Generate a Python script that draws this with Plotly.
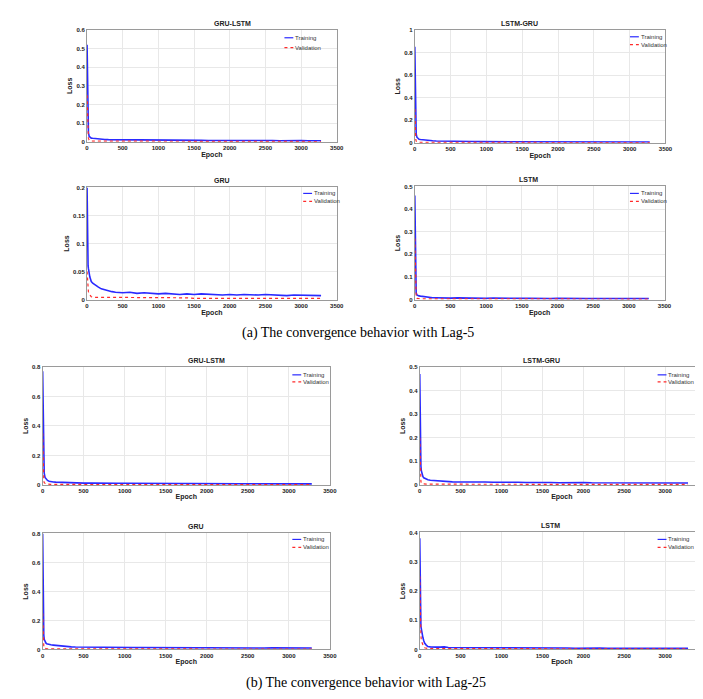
import plotly.graph_objects as go

# ---------------- data ----------------
epochs = [1, 5, 10, 15, 20, 30, 40, 50, 60, 80, 100, 130, 160, 200, 250, 300, 350, 400,
          500, 600, 700, 800, 900, 1000, 1100, 1200, 1300, 1400, 1500, 1600, 1700, 1800,
          1900, 2000, 2100, 2200, 2300, 2400, 2500, 2600, 2700, 2800, 2900, 3000, 3100,
          3200, 3280]

# Lag-5
gru_lstm_5_train = [0.52, 0.30, 0.15, 0.08, 0.05, 0.030, 0.025, 0.022, 0.020, 0.019, 0.018, 0.017,
                    0.015, 0.014, 0.013, 0.012, 0.012, 0.011,
                    0.010, 0.011, 0.009, 0.010, 0.009, 0.010, 0.008, 0.009, 0.008, 0.009,
                    0.008, 0.008, 0.007, 0.008, 0.007, 0.008, 0.007, 0.007, 0.008, 0.007,
                    0.006, 0.007, 0.006, 0.007, 0.006, 0.007, 0.006, 0.006, 0.006]
gru_lstm_5_val = [0.25, 0.15, 0.08, 0.04, 0.02, 0.010, 0.006, 0.005, 0.004, 0.004, 0.004, 0.003,
                  0.003, 0.003, 0.003, 0.003, 0.003, 0.003,
                  0.003, 0.003, 0.003, 0.002, 0.003, 0.002, 0.002, 0.003, 0.002, 0.002,
                  0.002, 0.002, 0.002, 0.002, 0.002, 0.002, 0.002, 0.002, 0.002, 0.002,
                  0.002, 0.002, 0.002, 0.002, 0.002, 0.002, 0.002, 0.002, 0.002]
lstm_gru_5_train = [0.85, 0.50, 0.25, 0.12, 0.08, 0.050, 0.040, 0.035, 0.032, 0.030, 0.028, 0.025,
                    0.022, 0.020, 0.018, 0.016, 0.015, 0.014,
                    0.012, 0.013, 0.011, 0.012, 0.011, 0.011, 0.010, 0.011, 0.010, 0.010,
                    0.009, 0.010, 0.009, 0.010, 0.009, 0.009, 0.008, 0.009, 0.009, 0.008,
                    0.008, 0.009, 0.008, 0.008, 0.008, 0.007, 0.008, 0.008, 0.007]
lstm_gru_5_val = [0.30, 0.15, 0.06, 0.03, 0.015, 0.008, 0.006, 0.005, 0.005, 0.004, 0.004, 0.004,
                  0.003, 0.003, 0.003, 0.003, 0.003, 0.003,
                  0.003, 0.003, 0.003, 0.003, 0.003, 0.003, 0.003, 0.002, 0.003, 0.002,
                  0.002, 0.002, 0.002, 0.002, 0.002, 0.002, 0.002, 0.002, 0.002, 0.002,
                  0.002, 0.002, 0.002, 0.002, 0.002, 0.002, 0.002, 0.002, 0.002]
gru_5_train = [0.200, 0.110, 0.070, 0.060, 0.055, 0.045, 0.040, 0.036, 0.032, 0.029, 0.027, 0.024,
               0.022, 0.019, 0.017, 0.016, 0.014, 0.013,
               0.012, 0.013, 0.011, 0.012, 0.011, 0.010, 0.011, 0.010, 0.009, 0.010,
               0.009, 0.010, 0.009, 0.009, 0.008, 0.009, 0.008, 0.009, 0.008, 0.008,
               0.009, 0.008, 0.008, 0.007, 0.008, 0.008, 0.007, 0.008, 0.007]
gru_5_val = [0.050, 0.035, 0.025, 0.018, 0.014, 0.010, 0.008, 0.006, 0.005, 0.004, 0.004, 0.004,
             0.003, 0.003, 0.003, 0.003, 0.003, 0.003,
             0.003, 0.003, 0.003, 0.003, 0.003, 0.003, 0.003, 0.003, 0.003, 0.003,
             0.002, 0.002, 0.002, 0.002, 0.002, 0.002, 0.002, 0.002, 0.002, 0.002,
             0.002, 0.002, 0.002, 0.002, 0.002, 0.002, 0.002, 0.002, 0.002]
lstm_5_train = [0.46, 0.30, 0.15, 0.06, 0.030, 0.020, 0.018, 0.017, 0.016, 0.015, 0.014, 0.012,
                0.010, 0.009, 0.008, 0.008, 0.007, 0.007,
                0.006, 0.007, 0.006, 0.006, 0.006, 0.005, 0.006, 0.005, 0.005, 0.005,
                0.005, 0.005, 0.004, 0.005, 0.004, 0.005, 0.004, 0.004, 0.004, 0.004,
                0.004, 0.004, 0.004, 0.004, 0.004, 0.004, 0.004, 0.004, 0.004]
lstm_5_val = [0.27, 0.15, 0.05, 0.02, 0.010, 0.005, 0.004, 0.004, 0.003, 0.003, 0.003, 0.003,
              0.003, 0.003, 0.002, 0.002, 0.002, 0.002,
              0.002, 0.002, 0.002, 0.002, 0.002, 0.002, 0.002, 0.002, 0.002, 0.002,
              0.002, 0.002, 0.002, 0.002, 0.002, 0.002, 0.002, 0.002, 0.002, 0.002,
              0.002, 0.002, 0.002, 0.002, 0.002, 0.002, 0.002, 0.002, 0.002]

# Lag-25
gru_lstm_25_train = [0.77, 0.50, 0.25, 0.12, 0.08, 0.050, 0.040, 0.035, 0.030, 0.025, 0.022, 0.020,
                     0.019, 0.018, 0.016, 0.015, 0.014, 0.013,
                     0.012, 0.013, 0.011, 0.012, 0.011, 0.011, 0.010, 0.011, 0.010, 0.010,
                     0.009, 0.010, 0.009, 0.009, 0.008, 0.009, 0.008, 0.009, 0.008, 0.008,
                     0.008, 0.008, 0.007, 0.008, 0.007, 0.008, 0.007, 0.007, 0.007]
gru_lstm_25_val = [0.35, 0.15, 0.06, 0.03, 0.015, 0.008, 0.006, 0.005, 0.004, 0.004, 0.004, 0.003,
                   0.003, 0.003, 0.003, 0.003, 0.003, 0.003,
                   0.003, 0.003, 0.003, 0.003, 0.002, 0.003, 0.002, 0.002, 0.002, 0.002,
                   0.002, 0.002, 0.002, 0.002, 0.002, 0.002, 0.002, 0.002, 0.002, 0.002,
                   0.002, 0.002, 0.002, 0.002, 0.002, 0.002, 0.002, 0.002, 0.002]
lstm_gru_25_train = [0.47, 0.25, 0.12, 0.08, 0.060, 0.045, 0.035, 0.030, 0.028, 0.025, 0.022, 0.020,
                     0.019, 0.018, 0.016, 0.015, 0.014, 0.013,
                     0.012, 0.013, 0.011, 0.012, 0.011, 0.012, 0.010, 0.011, 0.010, 0.011,
                     0.010, 0.010, 0.009, 0.010, 0.009, 0.010, 0.009, 0.009, 0.010, 0.009,
                     0.009, 0.010, 0.009, 0.009, 0.008, 0.009, 0.010, 0.008, 0.008]
lstm_gru_25_val = [0.20, 0.10, 0.04, 0.015, 0.008, 0.005, 0.004, 0.004, 0.003, 0.003, 0.003, 0.003,
                   0.003, 0.002, 0.002, 0.002, 0.002, 0.002,
                   0.002, 0.002, 0.002, 0.002, 0.002, 0.002, 0.002, 0.002, 0.002, 0.002,
                   0.002, 0.002, 0.002, 0.002, 0.002, 0.002, 0.002, 0.002, 0.002, 0.002,
                   0.002, 0.002, 0.002, 0.002, 0.002, 0.002, 0.002, 0.002, 0.002]
gru_25_train = [0.80, 0.45, 0.20, 0.10, 0.070, 0.050, 0.045, 0.040, 0.038, 0.035, 0.032, 0.030,
                0.028, 0.025, 0.022, 0.020, 0.018, 0.017,
                0.016, 0.017, 0.015, 0.016, 0.014, 0.015, 0.014, 0.014, 0.013, 0.014,
                0.013, 0.013, 0.012, 0.013, 0.012, 0.012, 0.011, 0.012, 0.011, 0.011,
                0.012, 0.011, 0.010, 0.011, 0.010, 0.011, 0.010, 0.010, 0.010]
gru_25_val = [0.25, 0.12, 0.05, 0.02, 0.010, 0.006, 0.005, 0.004, 0.004, 0.004, 0.003, 0.003,
              0.003, 0.003, 0.003, 0.003, 0.003, 0.003,
              0.003, 0.003, 0.003, 0.003, 0.003, 0.003, 0.003, 0.003, 0.003, 0.003,
              0.003, 0.003, 0.003, 0.003, 0.003, 0.003, 0.003, 0.003, 0.003, 0.003,
              0.003, 0.003, 0.003, 0.003, 0.003, 0.003, 0.003, 0.003, 0.003]
lstm_25_train = [0.38, 0.20, 0.11, 0.08, 0.070, 0.050, 0.040, 0.030, 0.022, 0.015, 0.010, 0.009,
                 0.008, 0.008, 0.008, 0.009, 0.007, 0.007,
                 0.006, 0.007, 0.006, 0.006, 0.006, 0.005, 0.006, 0.005, 0.005, 0.006,
                 0.005, 0.005, 0.005, 0.005, 0.004, 0.005, 0.004, 0.005, 0.004, 0.004,
                 0.004, 0.004, 0.004, 0.004, 0.004, 0.004, 0.004, 0.004, 0.004]
lstm_25_val = [0.25, 0.15, 0.08, 0.05, 0.030, 0.020, 0.012, 0.008, 0.006, 0.004, 0.003, 0.003,
               0.003, 0.003, 0.002, 0.002, 0.002, 0.002,
               0.002, 0.002, 0.002, 0.002, 0.002, 0.002, 0.002, 0.002, 0.002, 0.002,
               0.002, 0.002, 0.002, 0.002, 0.002, 0.002, 0.002, 0.002, 0.002, 0.002,
               0.002, 0.002, 0.002, 0.002, 0.002, 0.002, 0.002, 0.002, 0.002]

panel_titles = ["GRU-LSTM", "LSTM-GRU", "GRU", "LSTM", "GRU-LSTM", "LSTM-GRU", "GRU", "LSTM"]
series_names = ["Training", "Validation"]
train_series = [gru_lstm_5_train, lstm_gru_5_train, gru_5_train, lstm_5_train,
                gru_lstm_25_train, lstm_gru_25_train, gru_25_train, lstm_25_train]
val_series = [gru_lstm_5_val, lstm_gru_5_val, gru_5_val, lstm_5_val,
              gru_lstm_25_val, lstm_gru_25_val, gru_25_val, lstm_25_val]
y_max = [0.6, 1.0, 0.2, 0.5, 0.8, 0.5, 0.8, 0.4]
y_step = [0.1, 0.2, 0.05, 0.1, 0.2, 0.1, 0.2, 0.1]
x_ticks = [0, 500, 1000, 1500, 2000, 2500, 3000, 3500]
captions = ["(a) The convergence behavior with Lag-5", "(b) The convergence behavior with Lag-25"]

# ---------------- layout geometry (pixels) ----------------
W, H = 703, 699
# (left, right, top, bottom, x_range_max)
boxes = [
    (78, 331, 19, 132, 3500),
    (410, 664, 19, 133, 3500),
    (78, 331, 178, 291, 3500),
    (410, 663, 177, 291, 3500),
    (33, 324, 359, 478, 3500),
    (415, 703, 359, 478, 3475),
    (33, 324, 527, 644, 3500),
    (415, 703, 526, 644, 3475),
]
# legend key placement: (key left x, first row y, row gap)
legend_pos = [
    (278, 27, 10),
    (628, 26, 8),
    (297, 184, 8),
    (628, 184, 8),
    (286, 367, 7),
    (656, 367, 7),
    (286, 533, 8),
    (656, 533, 8),
]

TRAIN_COLOR = "#2a2aff"
VAL_COLOR = "#ff2a2a"
SANS = "Liberation Sans, Arial"

fig = go.Figure()
tick_font = dict(family=SANS, size=6, color="#222", weight="bold")
lab_font = dict(family=SANS, size=7, color="#222", weight="bold")

shapes = []
for i in range(8):
    n = "" if i == 0 else str(i + 1)
    L, R, T, B, xr = boxes[i]
    fig.add_trace(go.Scatter(x=epochs, y=train_series[i], mode="lines", name=series_names[0],
                             line=dict(color=TRAIN_COLOR, width=1.6), xaxis="x" + n,
                             yaxis="y" + n, showlegend=False))
    fig.add_trace(go.Scatter(x=epochs, y=val_series[i], mode="lines", name=series_names[1],
                             line=dict(color=VAL_COLOR, width=1.2, dash="dot"),
                             xaxis="x" + n, yaxis="y" + n, showlegend=False))
    nt = int(round(y_max[i] / y_step[i]))
    yt = [round(k * y_step[i], 3) for k in range(nt + 1)]
    fig.layout["xaxis" + n] = dict(
        domain=[L / W, R / W], anchor="y" + n, range=[0, xr], tickvals=x_ticks,
        showgrid=True, gridcolor="#e8e8e8", gridwidth=1, zeroline=False,
        showline=True, linecolor="#9a9a9a", linewidth=1, mirror=True,
        ticks="", tickfont=tick_font,
        title=dict(text="Epoch", font=lab_font, standoff=1))
    fig.layout["yaxis" + n] = dict(
        domain=[1 - B / H, 1 - T / H], anchor="x" + n, range=[0, y_max[i]], tickvals=yt,
        showgrid=True, gridcolor="#e8e8e8", gridwidth=1, zeroline=False,
        showline=True, linecolor="#9a9a9a", linewidth=1, mirror=True,
        ticks="", tickfont=tick_font,
        title=dict(text="Loss", font=lab_font, standoff=2))
    fig.add_annotation(x=(L + R) / 2 / W, y=1 - (T - 1) / H, xref="paper", yref="paper",
                       text=panel_titles[i], showarrow=False, yanchor="bottom",
                       font=dict(family=SANS, size=7, color="#222", weight="bold"))
    # compact in-panel legend
    kx, ky, gap = legend_pos[i]
    for j, (col, dash) in enumerate([(TRAIN_COLOR, "solid"), (VAL_COLOR, "dot")]):
        yy = 1 - (ky + j * gap) / H
        shapes.append(dict(type="line", xref="paper", yref="paper",
                           x0=kx / W, x1=(kx + 9) / W, y0=yy, y1=yy,
                           line=dict(color=col, width=1.2, dash=dash)))
        fig.add_annotation(x=(kx + 10) / W, y=yy, xref="paper", yref="paper",
                           text=series_names[j], showarrow=False, xanchor="left",
                           yanchor="middle", borderpad=0,
                           font=dict(family=SANS, size=6, color="#333"))

fig.add_annotation(x=353 / W, y=1 - 325 / H, xref="paper", yref="paper", text=captions[0],
                   showarrow=False, font=dict(family="Liberation Serif, Times New Roman",
                                              size=14, color="black"))
fig.add_annotation(x=361 / W, y=1 - 688 / H, xref="paper", yref="paper", text=captions[1],
                   showarrow=False, font=dict(family="Liberation Serif, Times New Roman",
                                              size=14, color="black"))

fig.update_layout(width=W, height=H, margin=dict(l=0, r=0, t=0, b=0),
                  paper_bgcolor="white", plot_bgcolor="white", showlegend=False,
                  shapes=shapes)
fig.write_html("out.html")
